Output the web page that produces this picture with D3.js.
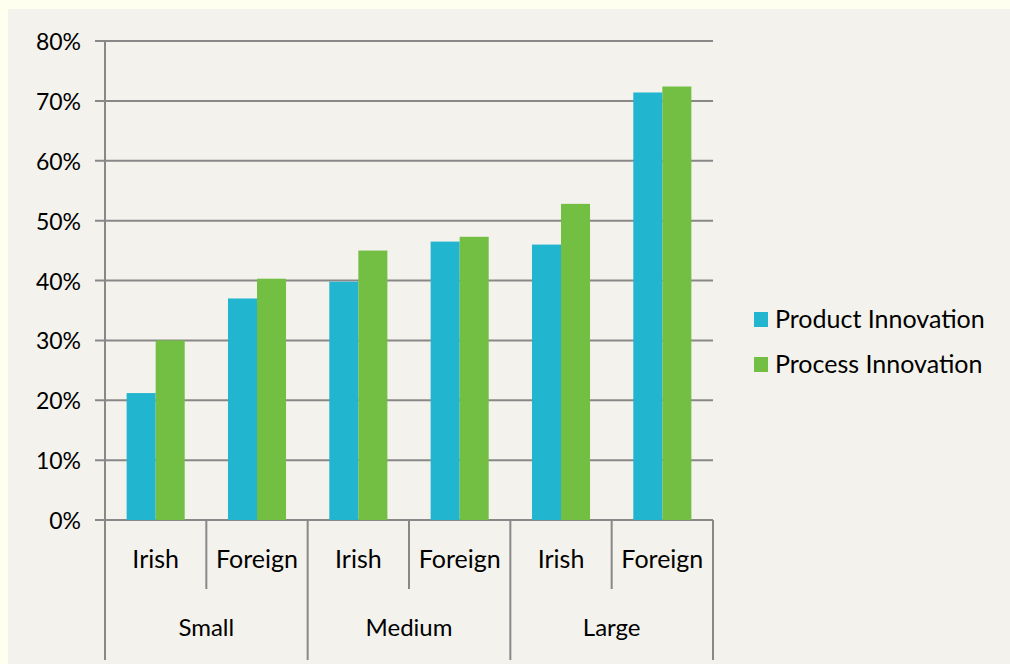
<!DOCTYPE html>
<html>
<head>
<meta charset="utf-8">
<script src="https://cdn.jsdelivr.net/npm/d3@7"></script>
<style>
  html, body { margin: 0; padding: 0; background: #fffff0; }
  svg { display: block; }
  text { font-family: Lato, "Open Sans", "DejaVu Sans", sans-serif; fill: #000; }
</style>
</head>
<body>
<svg id="chart" width="1010" height="664"></svg>
<script>
const groups = ["Small", "Medium", "Large"];
const subCategories = ["Irish", "Foreign"];
const seriesNames = ["Product Innovation", "Process Innovation"];
const productValues = [21.2, 37.0, 39.8, 46.5, 46.0, 71.4];
const processValues = [30.0, 40.3, 45.0, 47.3, 52.8, 72.4];
const yTicks = [0, 10, 20, 30, 40, 50, 60, 70, 80];
const colors = ["#22b5cf", "#72bf44"];

const svg = d3.select("#chart");
svg.append("rect").attr("x", 8).attr("y", 9).attr("width", 1002).attr("height", 655).attr("fill", "#f4f2ec");

const plotLeft = 105, plotRight = 713, plotTop = 41, plotBottom = 520;
const cats = [];
groups.forEach(g => subCategories.forEach(s => cats.push(g + "|" + s)));

const x0 = d3.scaleBand().domain(cats).range([plotLeft, plotRight]).padding(0);
const xg = d3.scaleBand().domain(groups).range([plotLeft, plotRight]).padding(0);
const x1 = d3.scaleBand().domain(seriesNames).range([0, x0.bandwidth()]).paddingInner(0).paddingOuter(0.745);
const y = d3.scaleLinear().domain([0, 80]).range([plotBottom, plotTop]);

const grid = "#888888";

// gridlines + ticks
svg.append("g").selectAll("line").data(yTicks).join("line")
  .attr("x1", plotLeft - 10).attr("x2", plotRight)
  .attr("y1", d => y(d)).attr("y2", d => y(d))
  .attr("stroke", grid).attr("stroke-width", 2);

// y labels
svg.append("g").selectAll("text").data(yTicks).join("text")
  .attr("x", 81).attr("y", d => y(d) + 9)
  .attr("text-anchor", "end")
  .attr("font-size", 23)
  .text(d => d + "%");

// bars
const seriesData = [productValues, processValues];
seriesNames.forEach((s, si) => {
  svg.append("g").selectAll("rect").data(seriesData[si]).join("rect")
    .attr("x", (d, i) => x0(cats[i]) + x1(s))
    .attr("width", x1.bandwidth())
    .attr("y", d => y(d))
    .attr("height", d => y(0) - y(d))
    .attr("fill", colors[si]);
});

// y axis line
svg.append("line").attr("x1", plotLeft).attr("x2", plotLeft).attr("y1", plotTop).attr("y2", 660)
  .attr("stroke", grid).attr("stroke-width", 2);

// sub separators
const subSep = groups.map(g => x0(g + "|Foreign"));
svg.append("g").selectAll("line").data(subSep).join("line")
  .attr("x1", d => d).attr("x2", d => d).attr("y1", plotBottom).attr("y2", 589)
  .attr("stroke", grid).attr("stroke-width", 2);

// group separators
const groupSep = groups.map(g => xg(g) + xg.bandwidth());
svg.append("g").selectAll("line").data(groupSep).join("line")
  .attr("x1", d => d).attr("x2", d => d).attr("y1", plotBottom).attr("y2", 660)
  .attr("stroke", grid).attr("stroke-width", 2);

// sub labels
svg.append("g").selectAll("text").data(cats).join("text")
  .attr("x", d => x0(d) + x0.bandwidth() / 2)
  .attr("y", 568)
  .attr("text-anchor", "middle")
  .attr("font-size", 25)
  .text(d => d.split("|")[1]);

// group labels
svg.append("g").selectAll("text").data(groups).join("text")
  .attr("x", d => xg(d) + xg.bandwidth() / 2)
  .attr("y", 636)
  .attr("text-anchor", "middle")
  .attr("font-size", 24)
  .text(d => d);

// legend
const legendY = d3.scalePoint().domain(seriesNames).range([312, 357]);
const lg = svg.append("g").selectAll("g").data(seriesNames).join("g");
lg.append("rect").attr("x", 754).attr("y", d => legendY(d)).attr("width", 14).attr("height", 15)
  .attr("fill", (d, i) => colors[i]);
lg.append("text").attr("x", 775).attr("y", d => legendY(d) + 16)
  .attr("font-size", 25).text(d => d);
</script>
</body>
</html>
